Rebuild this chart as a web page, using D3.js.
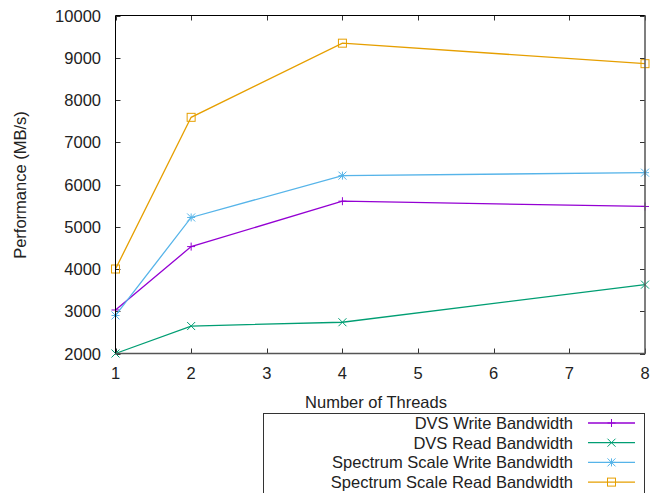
<!DOCTYPE html>
<html>
<head>
<meta charset="utf-8">
<script src="https://cdn.jsdelivr.net/npm/d3@7"></script>
<style>
  body { margin: 0; background: #fff; }
  text { font-family: "Liberation Sans", Arial, sans-serif; font-size: 16.5px; fill: #222; }
</style>
</head>
<body>
<svg id="chart" width="660" height="493"></svg>
<script>
// data
threads = [1, 2, 4, 8];
dvsWrite = [3030, 4530, 5605, 5480];
dvsRead = [2000, 2650, 2740, 3630];
ssWrite = [2900, 5220, 6210, 6280];
ssRead = [4000, 7590, 9345, 8860];
xTicks = [1, 2, 3, 4, 5, 6, 7, 8];
yTicks = [2000, 3000, 4000, 5000, 6000, 7000, 8000, 9000, 10000];
seriesNames = ["DVS Write Bandwidth", "DVS Read Bandwidth", "Spectrum Scale Write Bandwidth", "Spectrum Scale Read Bandwidth"];
seriesColors = ["#9400d3", "#009e73", "#56b4e9", "#e69f00"];
seriesMarks = ["plus", "cross", "star", "square"];

var series = [dvsWrite, dvsRead, ssWrite, ssRead];
var svg = d3.select("#chart");
var plot = { left: 115.5, top: 15.5, right: 645, bottom: 353.5 };

var x = d3.scaleLinear().domain([1, 8]).range([plot.left, plot.right]);
var y = d3.scaleLinear().domain([2000, 10000]).range([plot.bottom, plot.top]);

// draws a gnuplot style point
function drawMark(g, kind, cx, cy, color) {
    let s = 4;
    let p = g.append("g").attr("stroke", color).attr("fill", "none").attr("stroke-width", 1);
    if (kind == "plus" || kind == "star") {
        p.append("line").attr("x1", cx - s).attr("x2", cx + s).attr("y1", cy).attr("y2", cy);
        p.append("line").attr("x1", cx).attr("x2", cx).attr("y1", cy - s).attr("y2", cy + s);
    }
    if (kind == "cross" || kind == "star") {
        p.append("line").attr("x1", cx - s).attr("x2", cx + s).attr("y1", cy - s).attr("y2", cy + s);
        p.append("line").attr("x1", cx - s).attr("x2", cx + s).attr("y1", cy + s).attr("y2", cy - s);
    }
    if (kind == "square") {
        p.append("rect").attr("x", cx - s).attr("y", cy - s).attr("width", 2 * s).attr("height", 2 * s);
    }
}

// ticks, both sides, pointing inward
var tickLen = 5;
svg.append("g").selectAll("line.yl").data(yTicks).enter().append("line")
    .attr("x1", plot.left).attr("x2", plot.left + tickLen)
    .attr("y1", d => Math.round(y(d)) + 0.5).attr("y2", d => Math.round(y(d)) + 0.5)
    .attr("stroke", "#333");
svg.append("g").selectAll("line.yr").data(yTicks).enter().append("line")
    .attr("x1", plot.right - tickLen).attr("x2", plot.right)
    .attr("y1", d => Math.round(y(d)) + 0.5).attr("y2", d => Math.round(y(d)) + 0.5)
    .attr("stroke", "#333");
svg.append("g").selectAll("line.xb").data(xTicks).enter().append("line")
    .attr("x1", d => Math.round(x(d)) + 0.5).attr("x2", d => Math.round(x(d)) + 0.5)
    .attr("y1", plot.bottom - tickLen).attr("y2", plot.bottom)
    .attr("stroke", "#333");
svg.append("g").selectAll("line.xt").data(xTicks).enter().append("line")
    .attr("x1", d => Math.round(x(d)) + 0.5).attr("x2", d => Math.round(x(d)) + 0.5)
    .attr("y1", plot.top).attr("y2", plot.top + tickLen)
    .attr("stroke", "#333");

// tick labels
svg.append("g").selectAll("text").data(yTicks).enter().append("text")
    .attr("x", 101).attr("y", d => y(d) + 6)
    .attr("text-anchor", "end")
    .text(d => d);
svg.append("g").selectAll("text").data(xTicks).enter().append("text")
    .attr("x", d => x(d)).attr("y", 379)
    .attr("text-anchor", "middle")
    .text(d => d);

// axis titles
svg.append("text").attr("x", 376).attr("y", 408).attr("text-anchor", "middle").text("Number of Threads");
svg.append("text").attr("transform", "translate(26,185) rotate(-90)").attr("text-anchor", "middle").text("Performance (MB/s)");

// data lines
var line = d3.line().x(d => x(d[0])).y(d => y(d[1]));
series.forEach(function(vals, i) {
    let pts = threads.map((t, j) => [t, vals[j]]);
    svg.append("path").datum(pts).attr("d", line)
        .attr("fill", "none").attr("stroke", seriesColors[i]).attr("stroke-width", 1.3);
    let g = svg.append("g");
    pts.forEach(p => drawMark(g, seriesMarks[i], x(p[0]), y(p[1]), seriesColors[i]));
});

// frame
svg.append("path")
    .attr("d", "M" + plot.right + "," + plot.top + "H" + plot.left + "V" + plot.bottom)
    .attr("fill", "none").attr("stroke", "#000");
svg.append("path")
    .attr("d", "M" + plot.left + "," + plot.bottom + "H" + plot.right + "V" + plot.top)
    .attr("fill", "none").attr("stroke", "#555").attr("stroke-width", 1.5);

// legend
var leg = svg.append("g");
leg.append("rect").attr("x", 263.5).attr("y", 413.5).attr("width", 381).attr("height", 90)
    .attr("fill", "none").attr("stroke", "#333");
seriesNames.forEach(function(name, i) {
    let ly = 423 + i * 19.7;
    leg.append("text").attr("x", 573).attr("y", ly + 6).attr("text-anchor", "end").text(name);
    leg.append("line").attr("x1", 588).attr("x2", 635).attr("y1", ly).attr("y2", ly)
        .attr("stroke", seriesColors[i]).attr("stroke-width", 1.3);
    drawMark(leg, seriesMarks[i], 611.5, ly, seriesColors[i]);
});
</script>
</body>
</html>
